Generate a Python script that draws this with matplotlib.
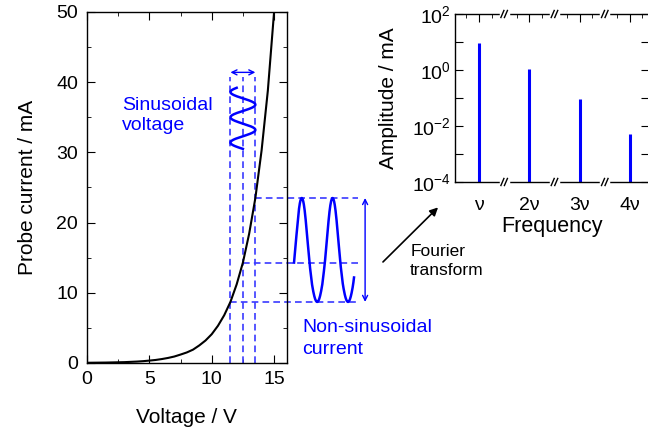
import numpy as np
import matplotlib.pyplot as plt
from matplotlib.ticker import MultipleLocator, FixedLocator, FixedFormatter, LogLocator, NullFormatter
import matplotlib.transforms as mtransforms

plt.rcParams['font.family'] = ['Liberation Sans', 'DejaVu Sans']
plt.rcParams['mathtext.fontset'] = 'custom'
plt.rcParams['mathtext.rm'] = 'Liberation Sans'
plt.rcParams['mathtext.it'] = 'Liberation Sans:italic'
plt.rcParams['axes.linewidth'] = 1.0

# probe I-V curve
voltage = [0, 0.5, 1, 1.5, 2, 2.5, 3, 3.5, 4, 4.5, 5, 5.5, 6, 6.5, 7, 7.5,
           8, 8.5, 9, 9.5, 10, 10.5, 11, 11.5, 12, 12.5, 13, 13.5, 14, 14.5, 15]
current = [0.03, 0.04, 0.05, 0.06, 0.08, 0.1, 0.12, 0.16, 0.2, 0.26, 0.34, 0.43,
           0.56, 0.72, 0.92, 1.2, 1.5, 1.9, 2.5, 3.2, 4.1, 5.3, 6.8, 8.7, 11.2,
           14.3, 18.4, 23.5, 30.3, 38.8, 50]

# applied voltage: bias +/- amplitude
bias_v = 12.5
ac_amp = 1.0

# Fourier spectrum
harmonics = [1, 2, 3, 4]
harmonic_labels = ['ν', '2ν', '3ν', '4ν']
amplitudes = [9.0, 1.1, 0.09, 0.0052]
decades = [1e-4, 1e-3, 1e-2, 1e-1, 1e0, 1e1, 1e2]
decade_labels = ['$10^{-4}$', '', '$10^{-2}$', '', '$10^{0}$', '', '$10^{2}$']
breaks = [1.5, 2.5, 3.5]

blue = '#0000ff'
dash_blue = '#3a3aff'
dash = (0, (4, 2.5))

fig = plt.figure(figsize=(6.48, 4.33), dpi=100)

# ---- left: I-V curve ----
ax = fig.add_axes([0.1343, 0.1617, 0.3079, 0.8106])
ax.plot(voltage, current, color='k', lw=1.5, zorder=3)
ax.set_xlim(0, 16)
ax.set_ylim(0, 50)
ax.xaxis.set_major_locator(MultipleLocator(5))
ax.xaxis.set_minor_locator(MultipleLocator(2.5))
ax.yaxis.set_major_locator(MultipleLocator(10))
ax.yaxis.set_minor_locator(MultipleLocator(5))
ax.tick_params(which='both', direction='in', top=True, right=True, labelsize=14)
ax.tick_params(which='major', length=6)
ax.tick_params(which='minor', length=3)
ax.tick_params(axis='x', pad=6)
ax.tick_params(axis='y', pad=6.5)
ax.set_xlabel('Voltage / V', fontsize=15, labelpad=14)
ax.set_ylabel('Probe current / mA', fontsize=15, labelpad=14)

# dashed guides
v_pts = [bias_v - ac_amp, bias_v, bias_v + ac_amp]
i_pts = np.interp(v_pts, voltage, current)
for v in v_pts:
    ax.plot([v, v], [0, 40.8], color=dash_blue, lw=1.2, ls=dash, zorder=2)
for v, i in zip(v_pts, i_pts):
    ax.plot([v, 21.7], [i, i], color=dash_blue, lw=1.2, ls=dash,
            clip_on=False, zorder=2)

# sinusoidal voltage (drawn vertically)
ph = np.radians(np.linspace(-60, 810, 200))
y_top, period = 39.2, 3.6
ax.plot(bias_v - ac_amp * np.cos(ph), y_top - (ph + np.radians(60)) / (2 * np.pi) * period,
        color=blue, lw=1.8, zorder=4)
ax.annotate('', xy=(v_pts[0], 41.4), xytext=(v_pts[2], 41.4),
            arrowprops=dict(arrowstyle='<->', color=blue, lw=1.0, mutation_scale=9,
                            shrinkA=0, shrinkB=0))

# resulting non-sinusoidal current
ph2 = np.radians(np.linspace(0, 700, 300))
t = np.linspace(16.6, 21.41, 300)
ax.plot(t, np.interp(bias_v + ac_amp * np.sin(ph2), voltage, current),
        color=blue, lw=1.8, clip_on=False, zorder=4)
ax.annotate('', xy=(22.3, i_pts[0]), xytext=(22.3, i_pts[2]),
            arrowprops=dict(arrowstyle='<->', color=blue, lw=1.0, mutation_scale=9,
                            shrinkA=0, shrinkB=0), annotation_clip=False)

fig.text(0.188, 0.777, 'Sinusoidal\nvoltage', color=blue, fontsize=14,
         va='top', ha='left', linespacing=1.3)
fig.text(0.466, 0.263, 'Non-sinusoidal\ncurrent', color=blue, fontsize=14,
         va='top', ha='left', linespacing=1.35)

# Fourier arrow
fig.text(0.633, 0.436, 'Fourier\ntransform', fontsize=12.5, va='top', ha='left',
         linespacing=1.3)
ax.annotate('', xy=(0.676, 0.521), xytext=(0.591, 0.395), xycoords='figure fraction',
            textcoords='figure fraction',
            arrowprops=dict(arrowstyle='-|>', color='k', lw=1.2, mutation_scale=12,
                            shrinkA=0, shrinkB=0))

# ---- right: spectrum ----
ax2 = fig.add_axes([0.7022, 0.5797, 0.2994, 0.388])
ax2.set_yscale('log')
ax2.vlines(harmonics, 1e-4, amplitudes, color=blue, lw=2.2)
ax2.set_ylim(1e-4, 1e2)
ax2.set_xlim(0.523, 4.38)
ax2.yaxis.set_major_locator(FixedLocator(decades))
ax2.yaxis.set_major_formatter(FixedFormatter(decade_labels))
ax2.yaxis.set_minor_locator(LogLocator(base=10, subs=np.arange(2, 10)))
ax2.yaxis.set_minor_formatter(NullFormatter())
ax2.set_xticks(harmonics)
ax2.set_xticklabels(harmonic_labels)
ax2.xaxis.set_minor_locator(FixedLocator([0.75, 1.25, 1.75, 2.25, 2.75, 3.25, 3.75, 4.25]))
ax2.tick_params(which='both', direction='in', top=True, bottom=False, left=True,
                right=True, labelsize=14)
ax2.tick_params(which='major', length=6)
ax2.tick_params(which='minor', length=3)
ax2.tick_params(axis='y', which='minor', right=False)
ax2.tick_params(axis='x', pad=11)
ax2.tick_params(axis='y', pad=3)
ax2.set_xlabel('Frequency', fontsize=15.5, labelpad=1)
ax2.set_ylabel('Amplitude / mA', fontsize=15, labelpad=10)

# axis break marks
trans = mtransforms.blended_transform_factory(ax2.transData, ax2.transAxes)
dx, dy, sep = 0.03, 0.021, 0.07
for xb in breaks:
    for yb in (0, 1):
        ax2.plot([xb - 0.07, xb + 0.07], [yb, yb], color='white', lw=2.5,
                 transform=trans, clip_on=False, zorder=5)
        for off in (-sep / 2, sep / 2):
            ax2.plot([xb + off - dx, xb + off + dx], [yb - dy, yb + dy], color='k',
                     lw=1.0, transform=trans, clip_on=False, zorder=6)

fig.savefig('out.png', dpi=100)
